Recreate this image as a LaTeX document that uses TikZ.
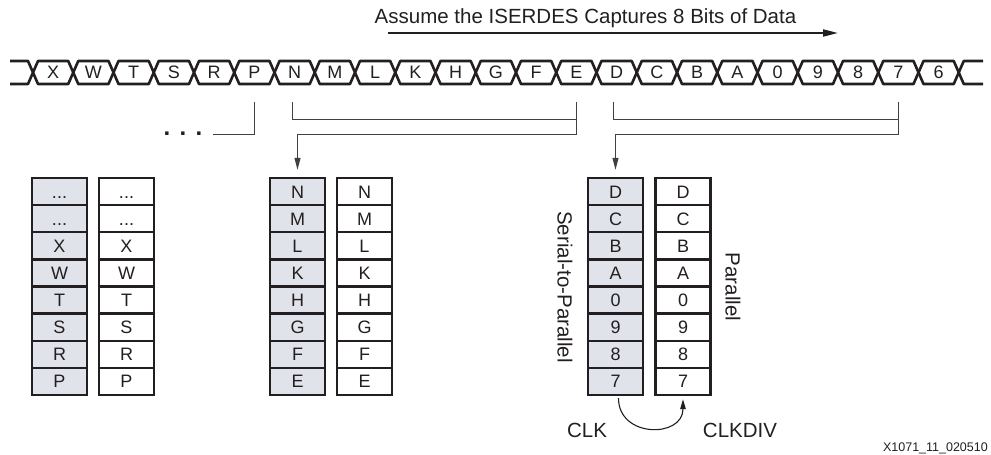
\documentclass[tikz,border=0pt]{standalone}
\usepackage{fontspec}
\setmainfont{Liberation Sans}
\usetikzlibrary{arrows.meta,positioning,calc}
\definecolor{shiftgray}{RGB}{224,227,233}
\definecolor{inkgray}{RGB}{35,31,32}
\newcommand\cellfont{\fontsize{18}{18}\selectfont}
\newcommand\labelfont{\fontsize{20.5}{21}\selectfont}
\newcommand\moredots{...}
\tikzset{
  shiftcell/.style={draw=inkgray,line width=2.4pt,fill=shiftgray,
    minimum width=55pt,minimum height=27.125pt,inner sep=0pt,
    text height=12.9pt,text depth=0pt,font=\cellfont,text=inkgray},
  holdcell/.style={shiftcell,fill=white}
}

\begin{document}
\begin{tikzpicture}[
  x=1pt,
  y=-1pt,
  busline/.style={
    draw=inkgray,
    line width=2.6pt,
    line join=round
  },
  buslabel/.style={
    inner sep=0pt,
    text height=12.9pt,
    text depth=0pt,
    font=\fontsize{18}{18}\selectfont,
    text=inkgray
  },
  tapline/.style={
    draw=black!75,
    line width=1pt
  },
  taparrow/.style={
    tapline,
    -{Triangle[length=12pt,width=6pt]},
    shorten >=7pt
  },
  sidelabel/.style={
    inner sep=0pt,
    rotate=-90,
    font=\labelfont,
    text=inkgray
  }
]

  \useasboundingbox (0,0) rectangle (991,455);

  % --------------------------------------------------------------
  % Caption arrow above the serial stream.
  % --------------------------------------------------------------
  \node[font=\labelfont,text=inkgray,inner sep=0pt] (capTxt) at (585.5,18)
    {Assume the ISERDES Captures 8 Bits of Data};
  \coordinate (capL) at (388,33);
  \coordinate (capR) at (838,33);
  \draw[draw=inkgray,line width=2pt,-{Triangle[length=15pt,width=7pt]}]
    (capL) -- (capR);


  % --------------------------------------------------------------
  % The serial data stream, one hexagon per bit.
  % --------------------------------------------------------------
  \draw[busline] (10,61) -- (28,61) -- (33,72.5) -- (28,84) -- (10,84);
  \foreach \lbl [count=\i from 0] in
      {X,W,T,S,R,P,N,M,L,K,H,G,F,E,D,C,B,A,0,9,8,7,6}
  {
    \pgfmathsetmacro{\xa}{33+40.25*\i}
    \pgfmathsetmacro{\xb}{\xa+40.25}
    \draw[busline] (\xa,72.5) -- (\xa+5,61) -- (\xb-5,61) -- (\xb,72.5)
      -- (\xb-5,84) -- (\xa+5,84) -- cycle;
    \node[buslabel] (bus\i) at ({(\xa+\xb)/2},72.5) {\lbl};
  }
  \draw[busline] (983,61) -- (963.75,61) -- (958.75,72.5) -- (963.75,84)
    -- (983,84);


  % --------------------------------------------------------------
  % Register columns: shift register (grey) and parallel copy.
  % --------------------------------------------------------------
  \foreach \lbl [count=\k] in {\moredots,\moredots,X,W,T,S,R,P}
  {
    \node[shiftcell] (gL\k) at (59.5,{178+27.125*(\k-0.5)}) {\lbl};
    \node[holdcell]  (wL\k) at (126.5,{178+27.125*(\k-0.5)}) {\lbl};
  }
  \foreach \lbl [count=\k] in {N,M,L,K,H,G,F,E}
  {
    \node[shiftcell] (gM\k) at (297.5,{178+27.125*(\k-0.5)}) {\lbl};
    \node[holdcell]  (wM\k) at (364.5,{178+27.125*(\k-0.5)}) {\lbl};
  }
  \foreach \lbl [count=\k] in {D,C,B,A,0,9,8,7}
  {
    \node[shiftcell] (gR\k) at (615.5,{178+27.125*(\k-0.5)}) {\lbl};
    \node[holdcell]  (wR\k) at (683,{178+27.125*(\k-0.5)}) {\lbl};
  }

  \node[sidelabel] (serTxt) at (565,287) {Serial-to-Parallel};
  \node[sidelabel] (parTxt) at (733,287) {Parallel};


  % --------------------------------------------------------------
  % Taps from the stream down to the registers.
  % --------------------------------------------------------------
  \coordinate (lvlTop) at (0,102);
  \coordinate (lvlA)   at (0,119);
  \coordinate (lvlB)   at (0,134);

  \node[font=\bfseries\fontsize{24}{24}\selectfont,inner xsep=10pt,
    inner ysep=0pt,text=inkgray] (dots) at (183,134)
    {.\hspace{9.3pt}.\hspace{9.3pt}.};

  \draw[tapline] (bus5 |- lvlTop) -- (bus5 |- lvlB) -- (dots.east |- lvlB);

  \draw[tapline] ([xshift=-2pt]bus6 |- lvlTop) -- ([xshift=-2pt]bus6 |- lvlA)
    -- (bus13 |- lvlA);
  \draw[taparrow] (bus13 |- lvlTop) -- (bus13 |- lvlB) -- (gM1 |- lvlB)
    -- (gM1.north);

  \draw[tapline] ([xshift=-3pt]bus14 |- lvlTop) -- ([xshift=-3pt]bus14 |- lvlA)
    -- (bus21 |- lvlA);
  \draw[taparrow] (bus21 |- lvlTop) -- (bus21 |- lvlB) -- (gR1 |- lvlB)
    -- (gR1.north);


  % --------------------------------------------------------------
  % Clock hand-over between the two registers.
  % --------------------------------------------------------------
  \node[font=\labelfont,text=inkgray,inner sep=0pt] (clkTxt) at (587,430) {CLK};
  \node[font=\labelfont,text=inkgray,inner sep=0pt] (clkdivTxt) at (740,430)
    {CLKDIV};
  \draw[draw=inkgray,line width=1.1pt,-{Triangle[length=10pt,width=5.5pt]},
    shorten <=2pt,shorten >=3pt]
    ([xshift=3pt]gR8.south) .. controls +(0,42) and +(0,42) .. (wR8.south);

  \node[font=\fontsize{12.5}{13}\selectfont,text=inkgray,inner sep=0pt,
    anchor=east] (figId) at (988,448) {X1071\_11\_020510};

\end{tikzpicture}
\end{document}
